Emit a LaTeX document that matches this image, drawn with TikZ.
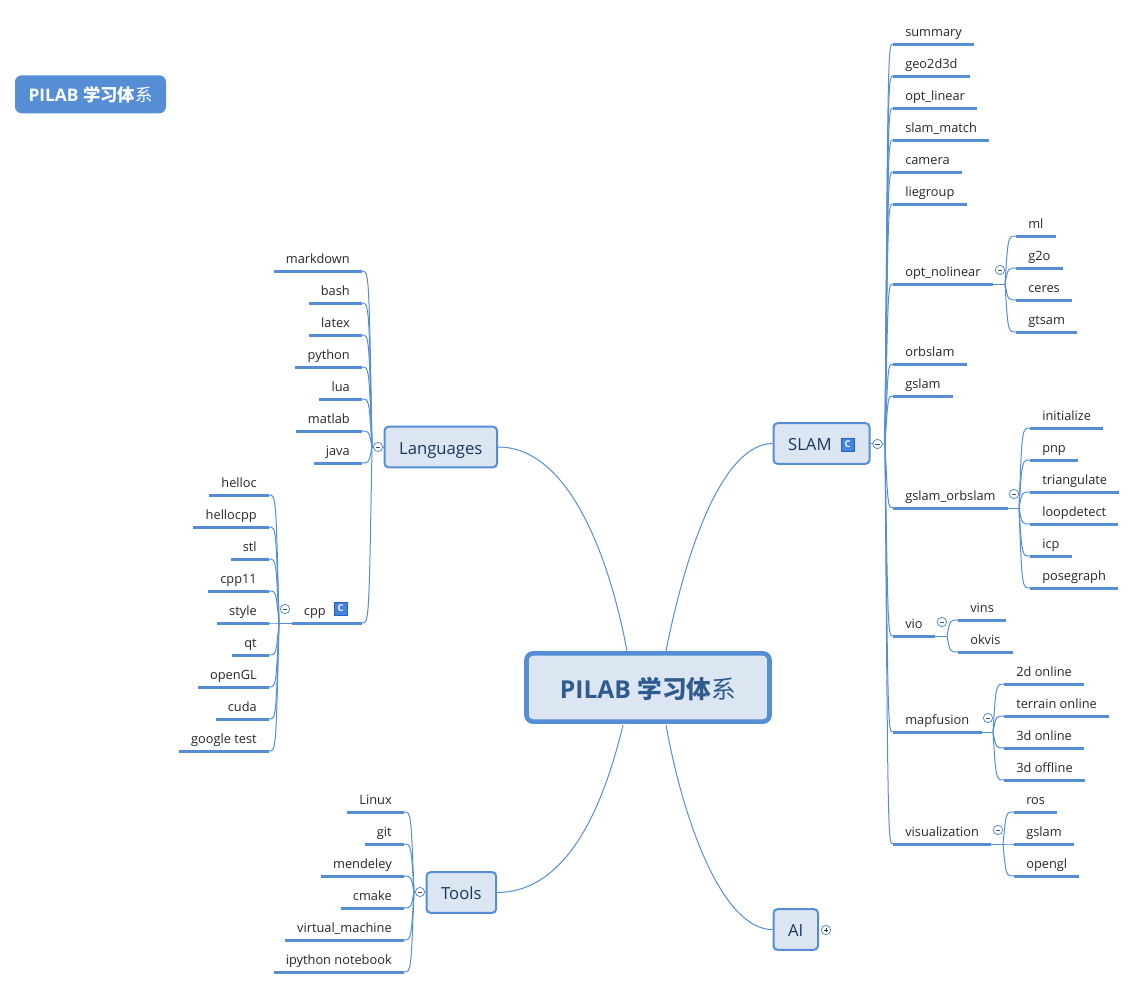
\documentclass[tikz,border=0pt]{standalone}
\usepackage{fontspec}
\setmainfont{Open Sans}
\newfontfamily\cjk{Noto Sans CJK SC}
\usetikzlibrary{calc}
\definecolor{mapblue}{HTML}{558ED5}
\definecolor{mapfill}{HTML}{DCE6F2}
\definecolor{maptext}{HTML}{17375E}
\definecolor{maptitle}{HTML}{2F5B8F}
\definecolor{iconfill}{HTML}{4285E0}
\definecolor{iconedge}{HTML}{2A5FC5}
\newcommand{\maplabel}{\textbf{PILAB {\cjk 学习体}}{\cjk 系}}
\tikzset{
    branch/.style={draw=mapblue, line width=0.75pt},
    leafline/.style={draw=mapblue, line width=2.25pt},
    leafR/.style={anchor=south west, inner xsep=9pt, inner ysep=0pt, text height=7.5pt, text depth=5.25pt, font=\fontsize{9.6pt}{12pt}\selectfont, text=black!85},
    leafL/.style={leafR, anchor=south east},
    topic/.style={draw=mapblue, fill=mapfill, line width=1.5pt, rounded corners=3pt, anchor=west, inner xsep=11pt, minimum height=30.5pt, text height=12pt, text depth=0.8pt, font=\fontsize{12.5pt}{15pt}\selectfont, text=maptext},
    fold/.style={circle, draw=mapblue, fill=white, line width=0.6pt, minimum size=7pt, inner sep=0pt, path picture={\draw[black!70, line width=0.4pt] (-1.6pt,0)--(1.6pt,0);}},
    foldplus/.style={fold, path picture={\draw[black!80, line width=0.4pt] (-1.8pt,0)--(1.8pt,0) (0,-1.8pt)--(0,1.8pt);}},
    noteicon/.style={draw=iconedge, fill=iconfill, text=white, inner sep=0pt, minimum size=9.5pt, line width=0.4pt, font=\fontsize{7pt}{7pt}\selectfont\bfseries},
}
\begin{document}
\begin{tikzpicture}[x=0.75pt,y=-0.75pt]
    \useasboundingbox (0,0) rectangle (1136,989);
    \node[fill=mapblue, rounded corners=5pt, text=white, minimum width=113.25pt, minimum height=28.5pt, inner sep=0pt, text height=12pt, text depth=0.5pt, font=\fontsize{13pt}{15pt}\selectfont] (title) at (90.5,94.3) {\maplabel};
    \node[draw=mapblue, fill=mapfill, line width=3.5pt, rounded corners=5pt, text=maptitle, minimum width=182.25pt, minimum height=51.2pt, inner sep=0pt, text height=17.25pt, text depth=0.75pt, font=\fontsize{18.5pt}{21pt}\selectfont] (main) at (648,687.5) {\maplabel};

    \node[topic] (slam) at (772.5,443.5) {SLAM\hspace{17.5pt}\null};
    \node[topic] (languages) at (383.5,447) {Languages};
    \node[topic] (tools) at (425.5,892.5) {Tools};
    \node[topic] (ai) at (772.5,929.5) {AI};
    \coordinate (mainSlam) at (666,651);
    \coordinate (mainLang) at (627,651);
    \coordinate (mainTools) at (623,725);
    \coordinate (mainAi) at (666,725);
    \draw[branch] (mainSlam) .. controls (688,540) and (725,444) .. (slam.west);
    \draw[branch] (mainLang) .. controls (610,560) and (570,447) .. (languages.east);
    \draw[branch] (mainTools) .. controls (605,800) and (570,892) .. (tools.east);
    \draw[branch] (mainAi) .. controls (685,830) and (725,930) .. (ai.west);

    \coordinate (slamJ) at (885,444);
    \coordinate (langJ) at (372,447);
    \coordinate (toolsJ) at (414,892);
    \draw[branch] (slam.east) -- (slamJ);
    \draw[branch] (languages.west) -- (langJ);
    \draw[branch] (tools.west) -- (toolsJ);

    \foreach \nm/\txt/\yy in {summary/summary/44, geo/geo2d3d/76, optlinear/opt\_linear/108, slammatch/slam\_match/140, camera/camera/172, liegroup/liegroup/204, optnolinear/opt\_nolinear/284, orbslam/orbslam/364, gslam/gslam/396, gslamorb/gslam\_orbslam/508, vio/vio/636, mapfusion/mapfusion/732, visualization/visualization/844} {
        \node[leafR] (\nm) at (893,\yy) {\txt};
        \draw[leafline] (\nm.south west) -- (\nm.south east);
        \draw[branch] (slamJ) .. controls ($(slamJ |- \nm.south west)+(3,0)$) .. (\nm.south west);
    }
    \foreach \up/\jx/\cx/\kids in {
        optnolinear/1005/1016/{ml/ml/236, gtwoo/g2o/268, ceres/ceres/300, gtsam/gtsam/332},
        gslamorb/1019/1030/{initialize/initialize/428, pnp/pnp/460, triangulate/triangulate/492, loopdetect/loopdetect/524, icp/icp/556, posegraph/posegraph/588},
        vio/947/958/{vins/vins/620, okvis/okvis/652},
        mapfusion/993/1004/{twod/2d online/684, terrain/terrain online/716, threeon/3d online/748, threeoff/3d offline/780},
        visualization/1003/1014/{ros/ros/812, vgslam/gslam/844, opengl/opengl/876}} {
        \coordinate (\up J) at (\jx,0 |- \up.south east);
        \draw[branch] (\up.south east) -- (\up J);
        \foreach \nm/\txt/\yy in \kids {
            \node[leafR] (\nm) at (\cx,\yy) {\txt};
            \draw[leafline] (\nm.south west) -- (\nm.south east);
            \draw[branch] (\up J) .. controls ($(\up J |- \nm.south west)+(3,0)$) .. (\nm.south west);
        }
        \node[fold] (\up F) at ($(\up J)+(-5,-14)$) {};
    }

    \foreach \nm/\txt/\yy in {markdown/markdown/271, bash/bash/303, latex/latex/335, python/python/367, lua/lua/399, matlab/matlab/431, java/java/463, cpp/cpp\hspace{18pt}\null/623} {
        \node[leafL] (\nm) at (362,\yy) {\txt};
        \draw[leafline] (\nm.south west) -- (\nm.south east);
        \draw[branch] (langJ) .. controls ($(langJ |- \nm.south east)+(-3,0)$) .. (\nm.south east);
    }
    \coordinate (cppJ) at (279,623);
    \draw[branch] (cpp.south west) -- (cppJ);
    \foreach \nm/\txt/\yy in {helloc/helloc/495, hellocpp/hellocpp/527, stl/stl/559, cppeleven/cpp11/591, style/style/623, qt/qt/655, openGL/openGL/687, cuda/cuda/719, googletest/google test/751} {
        \node[leafL] (\nm) at (269,\yy) {\txt};
        \draw[leafline] (\nm.south west) -- (\nm.south east);
        \draw[branch] (cppJ) .. controls ($(cppJ |- \nm.south east)+(-3,0)$) .. (\nm.south east);
    }
    \foreach \nm/\txt/\yy in {linux/Linux/812, git/git/844, mendeley/mendeley/876, cmake/cmake/908, virtual/virtual\_machine/940, ipython/ipython notebook/972} {
        \node[leafL] (\nm) at (404,\yy) {\txt};
        \draw[leafline] (\nm.south west) -- (\nm.south east);
        \draw[branch] (toolsJ) .. controls ($(toolsJ |- \nm.south east)+(-3,0)$) .. (\nm.south east);
    }

    \node[fold] (slamF) at (877.5,444) {};
    \node[fold] (langF) at (378,447) {};
    \node[fold] (toolsF) at (420,892) {};
    \node[fold] (cppF) at (285,609) {};
    \node[foldplus] (aiF) at (826,930) {};
    \node[noteicon] (slamC) at (847.5,444.5) {C};
    \node[noteicon] (cppC) at (340.5,608.5) {C};
\end{tikzpicture}
\end{document}
